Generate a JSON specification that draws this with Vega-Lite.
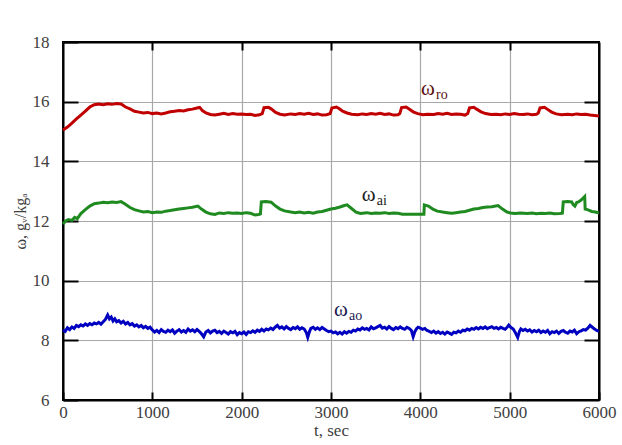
{
  "$schema": "https://vega.github.io/schema/vega-lite/v6.json",
  "width": 536,
  "height": 358,
  "autosize": {"type": "none"},
  "padding": {"left": 63, "top": 42, "right": 23, "bottom": 45},
  "background": "white",
  "config": {"view": {"stroke": "black", "strokeWidth": 2}},
  "datasets": {
    "ro": [
      {"t":0,"w":15.05},{"t":50,"w":15.15},{"t":100,"w":15.28},{"t":150,"w":15.42},{"t":200,"w":15.55},{"t":250,"w":15.68},{"t":300,"w":15.82},{"t":350,"w":15.9},{"t":400,"w":15.92},{"t":450,"w":15.9},{"t":500,"w":15.93},{"t":550,"w":15.91},{"t":600,"w":15.94},{"t":650,"w":15.92},{"t":700,"w":15.82},{"t":750,"w":15.76},{"t":800,"w":15.68},{"t":850,"w":15.65},{"t":900,"w":15.62},{"t":950,"w":15.64},{"t":1000,"w":15.6},{"t":1050,"w":15.62},{"t":1100,"w":15.59},{"t":1150,"w":15.62},{"t":1200,"w":15.66},{"t":1250,"w":15.68},{"t":1300,"w":15.7},{"t":1350,"w":15.69},{"t":1400,"w":15.73},{"t":1450,"w":15.75},{"t":1500,"w":15.79},{"t":1530,"w":15.81},{"t":1560,"w":15.7},{"t":1600,"w":15.62},{"t":1650,"w":15.57},{"t":1700,"w":15.55},{"t":1750,"w":15.58},{"t":1800,"w":15.61},{"t":1850,"w":15.57},{"t":1900,"w":15.6},{"t":1950,"w":15.58},{"t":2000,"w":15.59},{"t":2050,"w":15.57},{"t":2100,"w":15.58},{"t":2150,"w":15.54},{"t":2200,"w":15.56},{"t":2230,"w":15.6},{"t":2250,"w":15.8},{"t":2300,"w":15.81},{"t":2330,"w":15.76},{"t":2380,"w":15.64},{"t":2430,"w":15.58},{"t":2480,"w":15.55},{"t":2550,"w":15.59},{"t":2600,"w":15.57},{"t":2650,"w":15.6},{"t":2700,"w":15.58},{"t":2750,"w":15.61},{"t":2800,"w":15.57},{"t":2850,"w":15.59},{"t":2900,"w":15.55},{"t":2950,"w":15.56},{"t":2990,"w":15.6},{"t":3010,"w":15.79},{"t":3060,"w":15.82},{"t":3090,"w":15.77},{"t":3130,"w":15.68},{"t":3180,"w":15.62},{"t":3230,"w":15.58},{"t":3300,"w":15.56},{"t":3350,"w":15.59},{"t":3400,"w":15.57},{"t":3450,"w":15.6},{"t":3500,"w":15.58},{"t":3550,"w":15.61},{"t":3600,"w":15.57},{"t":3650,"w":15.59},{"t":3700,"w":15.55},{"t":3750,"w":15.56},{"t":3770,"w":15.6},{"t":3790,"w":15.8},{"t":3840,"w":15.82},{"t":3870,"w":15.76},{"t":3920,"w":15.66},{"t":3970,"w":15.6},{"t":4030,"w":15.56},{"t":4080,"w":15.58},{"t":4150,"w":15.57},{"t":4200,"w":15.6},{"t":4250,"w":15.58},{"t":4300,"w":15.61},{"t":4350,"w":15.57},{"t":4400,"w":15.59},{"t":4450,"w":15.58},{"t":4500,"w":15.55},{"t":4530,"w":15.6},{"t":4550,"w":15.79},{"t":4600,"w":15.81},{"t":4630,"w":15.75},{"t":4680,"w":15.66},{"t":4730,"w":15.6},{"t":4790,"w":15.57},{"t":4850,"w":15.58},{"t":4900,"w":15.56},{"t":4950,"w":15.59},{"t":5000,"w":15.57},{"t":5050,"w":15.6},{"t":5100,"w":15.58},{"t":5150,"w":15.57},{"t":5200,"w":15.59},{"t":5250,"w":15.56},{"t":5300,"w":15.58},{"t":5320,"w":15.62},{"t":5340,"w":15.79},{"t":5390,"w":15.81},{"t":5420,"w":15.75},{"t":5470,"w":15.65},{"t":5520,"w":15.59},{"t":5580,"w":15.56},{"t":5650,"w":15.58},{"t":5700,"w":15.56},{"t":5750,"w":15.59},{"t":5800,"w":15.57},{"t":5850,"w":15.58},{"t":5900,"w":15.55},{"t":5950,"w":15.54},{"t":6000,"w":15.52}
    ],
    "ai": [
      {"t":0,"w":11.9},{"t":30,"w":12.0},{"t":60,"w":12.05},{"t":100,"w":12.02},{"t":130,"w":12.12},{"t":160,"w":12.08},{"t":200,"w":12.25},{"t":250,"w":12.38},{"t":300,"w":12.5},{"t":350,"w":12.58},{"t":400,"w":12.6},{"t":450,"w":12.63},{"t":500,"w":12.61},{"t":550,"w":12.64},{"t":600,"w":12.62},{"t":650,"w":12.65},{"t":690,"w":12.58},{"t":750,"w":12.45},{"t":800,"w":12.38},{"t":850,"w":12.34},{"t":900,"w":12.3},{"t":950,"w":12.32},{"t":1000,"w":12.28},{"t":1050,"w":12.3},{"t":1100,"w":12.29},{"t":1150,"w":12.33},{"t":1200,"w":12.35},{"t":1250,"w":12.38},{"t":1300,"w":12.4},{"t":1350,"w":12.42},{"t":1400,"w":12.44},{"t":1450,"w":12.46},{"t":1510,"w":12.5},{"t":1550,"w":12.4},{"t":1600,"w":12.3},{"t":1650,"w":12.24},{"t":1700,"w":12.22},{"t":1750,"w":12.27},{"t":1800,"w":12.25},{"t":1850,"w":12.28},{"t":1900,"w":12.26},{"t":1950,"w":12.27},{"t":2000,"w":12.25},{"t":2050,"w":12.28},{"t":2100,"w":12.26},{"t":2150,"w":12.2},{"t":2190,"w":12.22},{"t":2210,"w":12.24},{"t":2220,"w":12.64},{"t":2270,"w":12.65},{"t":2330,"w":12.63},{"t":2380,"w":12.5},{"t":2430,"w":12.4},{"t":2480,"w":12.34},{"t":2550,"w":12.3},{"t":2600,"w":12.28},{"t":2650,"w":12.3},{"t":2700,"w":12.27},{"t":2750,"w":12.29},{"t":2800,"w":12.26},{"t":2850,"w":12.3},{"t":2900,"w":12.32},{"t":2950,"w":12.36},{"t":3000,"w":12.4},{"t":3050,"w":12.43},{"t":3100,"w":12.47},{"t":3150,"w":12.52},{"t":3180,"w":12.54},{"t":3230,"w":12.42},{"t":3280,"w":12.3},{"t":3330,"w":12.25},{"t":3400,"w":12.28},{"t":3450,"w":12.25},{"t":3500,"w":12.27},{"t":3550,"w":12.26},{"t":3600,"w":12.28},{"t":3650,"w":12.25},{"t":3700,"w":12.27},{"t":3750,"w":12.26},{"t":3800,"w":12.23},{"t":4040,"w":12.23},{"t":4045,"w":12.54},{"t":4090,"w":12.5},{"t":4140,"w":12.4},{"t":4190,"w":12.33},{"t":4250,"w":12.3},{"t":4300,"w":12.28},{"t":4350,"w":12.26},{"t":4400,"w":12.28},{"t":4450,"w":12.3},{"t":4500,"w":12.32},{"t":4550,"w":12.36},{"t":4600,"w":12.4},{"t":4650,"w":12.42},{"t":4700,"w":12.45},{"t":4750,"w":12.47},{"t":4800,"w":12.48},{"t":4870,"w":12.52},{"t":4920,"w":12.4},{"t":4970,"w":12.3},{"t":5010,"w":12.27},{"t":5060,"w":12.25},{"t":5120,"w":12.27},{"t":5200,"w":12.25},{"t":5250,"w":12.27},{"t":5300,"w":12.24},{"t":5350,"w":12.26},{"t":5400,"w":12.25},{"t":5450,"w":12.27},{"t":5500,"w":12.24},{"t":5560,"w":12.25},{"t":5590,"w":12.26},{"t":5600,"w":12.64},{"t":5650,"w":12.65},{"t":5695,"w":12.64},{"t":5710,"w":12.55},{"t":5730,"w":12.5},{"t":5750,"w":12.62},{"t":5770,"w":12.64},{"t":5800,"w":12.7},{"t":5840,"w":12.82},{"t":5845,"w":12.4},{"t":5870,"w":12.38},{"t":5920,"w":12.32},{"t":5960,"w":12.3},{"t":6000,"w":12.27}
    ],
    "ao": [
      {"t":0,"w":8.35},{"t":25,"w":8.3},{"t":50,"w":8.42},{"t":75,"w":8.36},{"t":100,"w":8.45},{"t":125,"w":8.4},{"t":150,"w":8.5},{"t":175,"w":8.46},{"t":200,"w":8.52},{"t":225,"w":8.48},{"t":250,"w":8.55},{"t":275,"w":8.5},{"t":300,"w":8.56},{"t":325,"w":8.52},{"t":350,"w":8.58},{"t":375,"w":8.55},{"t":400,"w":8.6},{"t":425,"w":8.54},{"t":450,"w":8.62},{"t":475,"w":8.7},{"t":500,"w":8.85},{"t":520,"w":8.72},{"t":540,"w":8.78},{"t":560,"w":8.65},{"t":580,"w":8.72},{"t":600,"w":8.62},{"t":625,"w":8.66},{"t":650,"w":8.58},{"t":675,"w":8.64},{"t":700,"w":8.55},{"t":725,"w":8.6},{"t":750,"w":8.52},{"t":775,"w":8.56},{"t":800,"w":8.48},{"t":825,"w":8.52},{"t":850,"w":8.45},{"t":875,"w":8.5},{"t":900,"w":8.42},{"t":925,"w":8.47},{"t":950,"w":8.4},{"t":975,"w":8.44},
      {"t":1000,"w":8.35},{"t":1025,"w":8.28},{"t":1050,"w":8.33},{"t":1075,"w":8.26},{"t":1100,"w":8.36},{"t":1125,"w":8.3},{"t":1150,"w":8.27},{"t":1175,"w":8.34},{"t":1200,"w":8.29},{"t":1225,"w":8.35},{"t":1250,"w":8.24},{"t":1275,"w":8.31},{"t":1300,"w":8.36},{"t":1325,"w":8.28},{"t":1350,"w":8.33},{"t":1375,"w":8.27},{"t":1400,"w":8.38},{"t":1425,"w":8.31},{"t":1450,"w":8.35},{"t":1475,"w":8.29},{"t":1500,"w":8.36},{"t":1525,"w":8.3},{"t":1550,"w":8.22},{"t":1575,"w":8.12},{"t":1600,"w":8.28},{"t":1625,"w":8.33},{"t":1650,"w":8.25},{"t":1675,"w":8.31},{"t":1700,"w":8.34},{"t":1725,"w":8.26},{"t":1750,"w":8.3},{"t":1775,"w":8.23},{"t":1800,"w":8.31},{"t":1825,"w":8.26},{"t":1850,"w":8.21},{"t":1875,"w":8.29},{"t":1900,"w":8.25},{"t":1925,"w":8.3},{"t":1950,"w":8.19},{"t":1975,"w":8.26},{"t":2000,"w":8.22},{"t":2025,"w":8.28},{"t":2050,"w":8.2},{"t":2075,"w":8.29},{"t":2100,"w":8.26},{"t":2125,"w":8.32},{"t":2150,"w":8.27},{"t":2175,"w":8.34},{"t":2200,"w":8.3},{"t":2225,"w":8.37},{"t":2250,"w":8.31},{"t":2275,"w":8.38},{"t":2300,"w":8.35},{"t":2325,"w":8.41},{"t":2350,"w":8.36},{"t":2375,"w":8.44},{"t":2400,"w":8.5},{"t":2425,"w":8.41},{"t":2450,"w":8.45},{"t":2475,"w":8.38},{"t":2500,"w":8.46},{"t":2525,"w":8.4},{"t":2550,"w":8.36},{"t":2575,"w":8.43},{"t":2600,"w":8.39},{"t":2625,"w":8.45},{"t":2650,"w":8.37},{"t":2675,"w":8.42},{"t":2700,"w":8.38},{"t":2725,"w":8.25},{"t":2740,"w":8.1},{"t":2760,"w":8.3},{"t":2775,"w":8.4},{"t":2800,"w":8.44},{"t":2825,"w":8.37},{"t":2850,"w":8.42},{"t":2875,"w":8.36},{"t":2900,"w":8.43},{"t":2925,"w":8.38},{"t":2950,"w":8.33},{"t":2975,"w":8.29},{"t":3000,"w":8.31},{"t":3025,"w":8.25},{"t":3050,"w":8.28},{"t":3075,"w":8.22},{"t":3100,"w":8.27},{"t":3125,"w":8.21},{"t":3150,"w":8.29},{"t":3175,"w":8.24},{"t":3200,"w":8.3},{"t":3225,"w":8.27},{"t":3250,"w":8.34},{"t":3275,"w":8.31},{"t":3300,"w":8.38},{"t":3325,"w":8.35},{"t":3350,"w":8.42},{"t":3375,"w":8.37},{"t":3400,"w":8.4},{"t":3425,"w":8.35},{"t":3450,"w":8.45},{"t":3475,"w":8.39},{"t":3500,"w":8.42},{"t":3525,"w":8.46},{"t":3550,"w":8.5},{"t":3575,"w":8.41},{"t":3600,"w":8.44},{"t":3625,"w":8.38},{"t":3650,"w":8.46},{"t":3675,"w":8.4},{"t":3700,"w":8.36},{"t":3725,"w":8.43},{"t":3750,"w":8.39},{"t":3775,"w":8.45},{"t":3800,"w":8.4},{"t":3825,"w":8.37},{"t":3850,"w":8.44},{"t":3875,"w":8.4},{"t":3900,"w":8.33},{"t":3920,"w":8.12},{"t":3940,"w":8.3},{"t":3960,"w":8.4},{"t":3975,"w":8.44},{"t":4000,"w":8.41},{"t":4025,"w":8.37},{"t":4050,"w":8.4},{"t":4075,"w":8.33},{"t":4100,"w":8.3},{"t":4125,"w":8.26},{"t":4150,"w":8.31},{"t":4175,"w":8.24},{"t":4200,"w":8.29},{"t":4225,"w":8.23},{"t":4250,"w":8.27},{"t":4275,"w":8.21},{"t":4300,"w":8.28},{"t":4325,"w":8.24},{"t":4350,"w":8.2},{"t":4375,"w":8.27},{"t":4400,"w":8.25},{"t":4425,"w":8.31},{"t":4450,"w":8.27},{"t":4475,"w":8.34},{"t":4500,"w":8.32},{"t":4525,"w":8.38},{"t":4550,"w":8.34},{"t":4575,"w":8.4},{"t":4600,"w":8.37},{"t":4625,"w":8.43},{"t":4650,"w":8.38},{"t":4675,"w":8.44},{"t":4700,"w":8.4},{"t":4725,"w":8.45},{"t":4750,"w":8.39},{"t":4775,"w":8.43},{"t":4800,"w":8.46},{"t":4825,"w":8.4},{"t":4850,"w":8.43},{"t":4875,"w":8.38},{"t":4900,"w":8.44},{"t":4925,"w":8.4},{"t":4950,"w":8.37},{"t":4975,"w":8.45},{"t":4990,"w":8.51},{"t":5015,"w":8.43},{"t":5040,"w":8.38},{"t":5065,"w":8.25},{"t":5090,"w":8.1},{"t":5110,"w":8.3},{"t":5125,"w":8.38},{"t":5150,"w":8.33},{"t":5175,"w":8.37},{"t":5200,"w":8.31},{"t":5225,"w":8.35},{"t":5250,"w":8.28},{"t":5275,"w":8.33},{"t":5300,"w":8.29},{"t":5325,"w":8.34},{"t":5350,"w":8.26},{"t":5375,"w":8.31},{"t":5400,"w":8.27},{"t":5425,"w":8.33},{"t":5450,"w":8.22},{"t":5475,"w":8.29},{"t":5500,"w":8.26},{"t":5525,"w":8.31},{"t":5550,"w":8.23},{"t":5575,"w":8.3},{"t":5600,"w":8.33},{"t":5625,"w":8.27},{"t":5650,"w":8.24},{"t":5675,"w":8.31},{"t":5700,"w":8.28},{"t":5725,"w":8.34},{"t":5750,"w":8.22},{"t":5775,"w":8.29},{"t":5800,"w":8.32},{"t":5825,"w":8.36},{"t":5850,"w":8.34},{"t":5875,"w":8.41},{"t":5900,"w":8.5},{"t":5925,"w":8.44},{"t":5950,"w":8.38},{"t":5975,"w":8.33},{"t":6000,"w":8.3}
    ],
    "labels": [
      {"t":4008,"w":16.22,"main":"ω","sub":"ro","color":"ro"},
      {"t":3344,"w":12.67,"main":"ω","sub":"ai","color":"ai"},
      {"t":3034,"w":8.81,"main":"ω","sub":"ao","color":"ao"}
    ]
  },
  "resolve": {"axis": {"x": "independent", "y": "independent"}},
  "layer": [
    {
      "data": {"name": "ro"},
      "mark": {"type": "line", "color": "#c00000", "strokeWidth": 3},
      "encoding": {
        "x": {"field": "t", "type": "quantitative", "scale": {"domain": [0, 6000], "nice": false},
          "axis": {"orient": "bottom", "values": [0,1000,2000,3000,4000,5000,6000], "format": "d", "labelFlush": false, "tickSize": -8, "tickWidth": 2, "tickColor": "black",
            "domain": true, "domainColor": "black", "domainWidth": 2,
            "grid": true, "gridColor": "#a8a8a8", "gridWidth": 1.2,
            "labelFont": "Liberation Serif", "labelFontSize": 17, "labelColor": "#404040", "labelPadding": 12,
            "title": "t, sec", "titleFont": "Liberation Serif", "titleFontSize": 17, "titleFontWeight": "normal", "titleColor": "#404040", "titlePadding": 2}},
        "y": {"field": "w", "type": "quantitative", "scale": {"domain": [6, 18], "nice": false, "zero": false},
          "axis": {"orient": "left", "values": [6,8,10,12,14,16,18], "labelFlush": false, "tickSize": -15, "tickWidth": 2, "tickColor": "black",
            "domain": true, "domainColor": "black", "domainWidth": 2,
            "grid": true, "gridColor": "#a8a8a8", "gridWidth": 1.2,
            "labelFont": "Liberation Serif", "labelFontSize": 17, "labelColor": "#404040", "labelPadding": 29,
            "title": "ω, gᵥ/kgₐ", "titleFont": "Liberation Serif", "titleFontSize": 16, "titleFontWeight": "normal", "titleColor": "#404040",
            "titleX": -43, "titleY": 179, "titleBaseline": "middle", "titleAlign": "center"}}
      }
    },
    {
      "data": {"name": "ai"},
      "mark": {"type": "line", "color": "#1f8a1f", "strokeWidth": 3},
      "encoding": {
        "x": {"field": "t", "type": "quantitative", "scale": {"domain": [0, 6000], "nice": false},
          "axis": {"orient": "top", "values": [1000,2000,3000,4000,5000], "tickSize": -8, "tickWidth": 2, "tickColor": "black",
            "domain": true, "domainColor": "black", "domainWidth": 2, "grid": false, "labels": false, "title": null}},
        "y": {"field": "w", "type": "quantitative", "scale": {"domain": [6, 18], "nice": false, "zero": false},
          "axis": {"orient": "right", "values": [8,10,12,14,16], "tickSize": -15, "tickWidth": 2, "tickColor": "black",
            "domain": true, "domainColor": "black", "domainWidth": 2, "grid": false, "labels": false, "title": null}}
      }
    },
    {
      "data": {"name": "ao"},
      "mark": {"type": "line", "color": "#0000c0", "strokeWidth": 3},
      "encoding": {
        "x": {"field": "t", "type": "quantitative", "axis": null},
        "y": {"field": "w", "type": "quantitative", "axis": null}
      }
    },
    {
      "data": {"name": "labels"},
      "mark": {"type": "text", "font": "Liberation Serif", "fontSize": 21, "align": "left", "baseline": "alphabetic"},
      "encoding": {
        "x": {"field": "t", "type": "quantitative", "axis": null},
        "y": {"field": "w", "type": "quantitative", "axis": null},
        "text": {"field": "main"},
        "color": {"field": "color", "type": "nominal", "scale": {"domain": ["ro","ai","ao"], "range": ["#5a1010", "#1a1a1a", "#1a1a50"]}, "legend": null}
      }
    },
    {
      "data": {"name": "labels"},
      "mark": {"type": "text", "font": "Liberation Serif", "fontSize": 14, "align": "left", "baseline": "alphabetic", "dx": 15, "dy": 4},
      "encoding": {
        "x": {"field": "t", "type": "quantitative", "axis": null},
        "y": {"field": "w", "type": "quantitative", "axis": null},
        "text": {"field": "sub"},
        "color": {"field": "color", "type": "nominal", "scale": {"domain": ["ro","ai","ao"], "range": ["#5a1010", "#1a1a1a", "#1a1a50"]}, "legend": null}
      }
    }
  ]
}
